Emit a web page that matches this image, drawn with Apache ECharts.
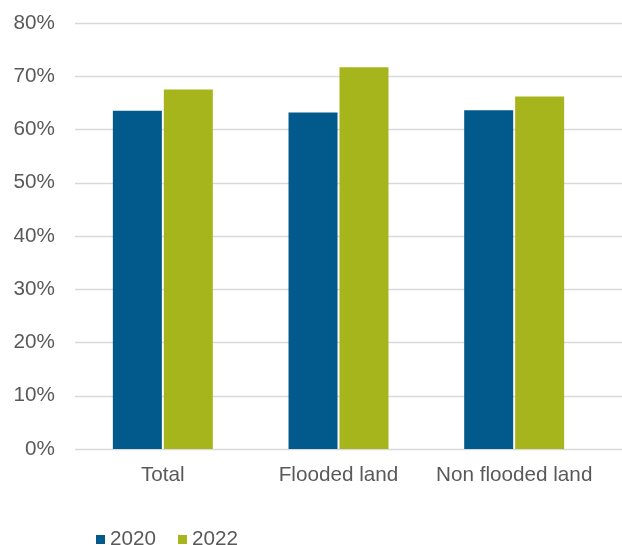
<!DOCTYPE html>
<html>
<head>
<meta charset="utf-8">
<script src="https://cdn.jsdelivr.net/npm/echarts@6/dist/echarts.min.js"></script>
<style>
  html, body { margin: 0; padding: 0; background: #ffffff; }
  #chart { width: 622px; height: 545px; }
</style>
</head>
<body>
<div id="chart"></div>
<script>
// Share of land (%) by category, 2020 vs 2022
const categories = ['Total', 'Flooded land', 'Non flooded land'];
const seriesNames = ['2020', '2022'];
const values2020 = [63.5, 63.2, 63.6];
const values2022 = [67.5, 71.7, 66.2];
const yTicks = [0, 10, 20, 30, 40, 50, 60, 70, 80];

const textColor = '#595959';
const fontFamily = 'Arial, "Liberation Sans", sans-serif';
const fontSize = 20.7;

const chart = echarts.init(document.getElementById('chart'), null, { renderer: 'canvas' });

chart.setOption({
  animation: false,
  backgroundColor: '#ffffff',
  textStyle: { fontFamily: fontFamily },
  grid: [
    // gridlines and y labels, running to the right edge
    { left: 75, right: 0, top: 23, bottom: 96 },
    // bars
    { left: 75, right: 20, top: 23, bottom: 96 }
  ],
  legend: {
    data: seriesNames,
    left: 91,
    top: 524,
    itemWidth: 9,
    itemHeight: 9,
    itemGap: 22,
    icon: 'rect',
    textStyle: { color: textColor, fontSize: fontSize, fontFamily: fontFamily }
  },
  xAxis: [
    { type: 'value', gridIndex: 0, show: false, min: 0, max: 1 },
    {
      type: 'category',
      gridIndex: 1,
      data: categories,
      axisLine: { show: false },
      axisTick: { show: false },
      axisLabel: { interval: 0, color: textColor, fontSize: fontSize, fontFamily: fontFamily, margin: 16 }
    }
  ],
  yAxis: [
    {
      type: 'value',
      gridIndex: 0,
      min: yTicks[0],
      max: yTicks[yTicks.length - 1],
      interval: yTicks[1] - yTicks[0],
      axisLine: { show: false },
      axisTick: { show: false },
      axisLabel: {
        color: textColor, fontSize: fontSize, fontFamily: fontFamily, margin: 20,
        formatter: v => v + '%'
      },
      splitLine: { lineStyle: { color: '#d9d9d9', width: 1.3 } }
    },
    {
      type: 'value',
      gridIndex: 1,
      min: yTicks[0],
      max: yTicks[yTicks.length - 1],
      interval: yTicks[1] - yTicks[0],
      show: false,
      splitLine: { show: false }
    }
  ],
  series: [
    {
      name: seriesNames[0],
      type: 'bar',
      xAxisIndex: 1,
      yAxisIndex: 1,
      data: values2020,
      barWidth: 49,
      barGap: '4%',
      itemStyle: { color: '#015A8B' }
    },
    {
      name: seriesNames[1],
      type: 'bar',
      xAxisIndex: 1,
      yAxisIndex: 1,
      data: values2022,
      barWidth: 49,
      barGap: '4%',
      itemStyle: { color: '#A6B51B' }
    }
  ]
});
</script>
</body>
</html>
